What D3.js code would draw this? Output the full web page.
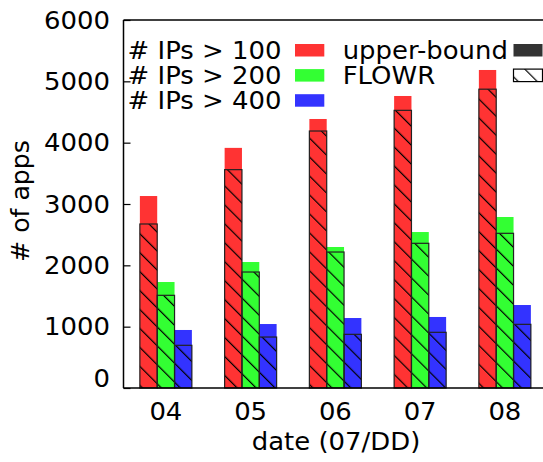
<!DOCTYPE html>
<html>
<head>
<meta charset="utf-8">
<script src="https://cdn.jsdelivr.net/npm/d3@7/dist/d3.min.js"></script>
<style>
  html, body { margin: 0; padding: 0; background: #fff; }
  svg { display: block; font-family: "DejaVu Sans", sans-serif; }
</style>
</head>
<body>
<svg id="chart" width="543" height="462"></svg>
<script>
// Dates (07/DD)
const categories = ["04", "05", "06", "07", "08"];
const seriesNames = ["# IPs > 100", "# IPs > 200", "# IPs > 400"];
const seriesColors = ["#ff3333", "#33ff33", "#3333ff"];

// upper-bound (solid) values per series
const upper100 = [3130, 3915, 4386, 4761, 5185];
const upper200 = [1728, 2054, 2299, 2543, 2788];
const upper400 = [946, 1043, 1141, 1158, 1353];

// FLOWR (hatched) values per series
const flowr100 = [2674, 3560, 4190, 4527, 4872];
const flowr200 = [1511, 1891, 2217, 2359, 2522];
const flowr400 = [696, 831, 875, 908, 1038];

const yTicks = [0, 1000, 2000, 3000, 4000, 5000, 6000];

const upperSeries = [upper100, upper200, upper400];
const flowrSeries = [flowr100, flowr200, flowr400];

const svg = d3.select("#chart");
const FS = 24;
const SX = 1.08; // horizontal text stretch

const plotLeft = 123.5, plotTop = 20, plotBottom = 388;
const step = 84.75;

const x0 = d3.scaleBand().domain(categories)
  .range([plotLeft, plotLeft + step * categories.length]).padding(0);
const x1 = d3.scaleBand().domain(d3.range(seriesNames.length))
  .range([-26, 26]).padding(0);
const y = d3.scaleLinear().domain([0, 6000]).range([plotBottom, plotTop]);

// hatch pattern "\" direction
const defs = svg.append("defs");
const hs = 13.4;
defs.append("pattern")
  .attr("id", "hatch")
  .attr("patternUnits", "userSpaceOnUse")
  .attr("width", hs).attr("height", hs)
  .attr("patternTransform", "rotate(-45)")
  .append("line")
  .attr("x1", 0).attr("y1", -2).attr("x2", 0).attr("y2", hs + 2)
  .attr("stroke", "#000").attr("stroke-width", 2.4);

function stretchedText(g, x, yy, txt, anchor) {
  return g.append("text")
    .attr("transform", `translate(${x},${yy}) scale(${SX},1)`)
    .attr("text-anchor", anchor)
    .attr("font-size", FS)
    .attr("fill", "#000")
    .text(txt);
}

// bars
const rows = [];
categories.forEach((c, ci) => {
  seriesNames.forEach((s, si) => {
    rows.push({c, si, up: upperSeries[si][ci], fl: flowrSeries[si][ci]});
  });
});

const bars = svg.append("g");
const bw = x1.bandwidth();
const bx = d => x0(d.c) + x0.bandwidth() / 2 + x1(d.si);

bars.selectAll("rect.up").data(rows).join("rect")
  .attr("class", "up")
  .attr("x", bx).attr("width", bw)
  .attr("y", d => y(d.up)).attr("height", d => y(0) - y(d.up))
  .attr("fill", d => seriesColors[d.si]);

bars.selectAll("rect.flc").data(rows).join("rect")
  .attr("class", "flc")
  .attr("x", bx).attr("width", bw)
  .attr("y", d => y(d.fl)).attr("height", d => y(0) - y(d.fl))
  .attr("fill", d => seriesColors[d.si]);

bars.selectAll("rect.flh").data(rows).join("rect")
  .attr("class", "flh")
  .attr("x", bx).attr("width", bw)
  .attr("y", d => y(d.fl)).attr("height", d => y(0) - y(d.fl))
  .attr("fill", "url(#hatch)")
  .attr("stroke", "#222").attr("stroke-width", 1.2);

// axes frame
const frame = svg.append("g").attr("stroke", "#000").attr("stroke-width", 1.5).attr("fill", "none");
frame.append("line").attr("x1", plotLeft).attr("x2", plotLeft).attr("y1", plotTop).attr("y2", plotBottom);
frame.append("line").attr("x1", plotLeft).attr("x2", 543).attr("y1", plotBottom).attr("y2", plotBottom);
frame.append("line").attr("x1", plotLeft).attr("x2", 543).attr("y1", plotTop).attr("y2", plotTop);

// y axis ticks (inward) and labels
const yAxis = d3.axisLeft(y).tickValues(yTicks).tickSize(-7).tickFormat(d3.format("d"));
const ya = svg.append("g").attr("transform", `translate(${plotLeft},0)`).call(yAxis);
ya.select(".domain").remove();
ya.selectAll(".tick line").attr("stroke", "#000").attr("stroke-width", 1.2);
ya.selectAll(".tick text").remove();
const labels = svg.append("g");
yTicks.forEach(v => {
  const off = v === 0 ? -1 : 8.5;
  stretchedText(labels, 110, y(v) + off, String(v), "end");
});

// x tick labels
categories.forEach(c => {
  stretchedText(labels, x0(c) + x0.bandwidth() / 2, 419.5, c, "middle");
});

// axis titles
stretchedText(labels, 336, 450, "date (07/DD)", "middle");
labels.append("text")
  .attr("transform", `translate(28.5,201) rotate(-90) scale(1.05,1)`)
  .attr("text-anchor", "middle")
  .attr("font-size", FS)
  .text("# of apps");

// legend: series colours
const leg = svg.append("g");
seriesNames.forEach((s, i) => {
  const cy = 50.3 + i * 25.1;
  stretchedText(leg, 281.5, cy + 8.5, s, "end");
  leg.append("rect").attr("x", 295).attr("y", cy - 6.3).attr("width", 29.3).attr("height", 12.5)
    .attr("fill", seriesColors[i]);
});

// legend: measurement kind
const kinds = ["upper-bound", "FLOWR"];
kinds.forEach((k, i) => {
  const cy = 50.3 + i * 25.1;
  stretchedText(leg, 342.7, cy + 8.5, k, "start");
  if (i === 0) {
    leg.append("rect").attr("x", 513.5).attr("y", cy - 6.3).attr("width", 29).attr("height", 12.5)
      .attr("fill", "#333");
  } else {
    leg.append("rect").attr("x", 513.5).attr("y", cy - 6.3).attr("width", 29).attr("height", 12.5)
      .attr("fill", "#fff");
    leg.append("rect").attr("x", 513.5).attr("y", cy - 6.3).attr("width", 29).attr("height", 12.5)
      .attr("fill", "url(#hatch)").attr("stroke", "#000").attr("stroke-width", 1.2);
  }
});
</script>
</body>
</html>
